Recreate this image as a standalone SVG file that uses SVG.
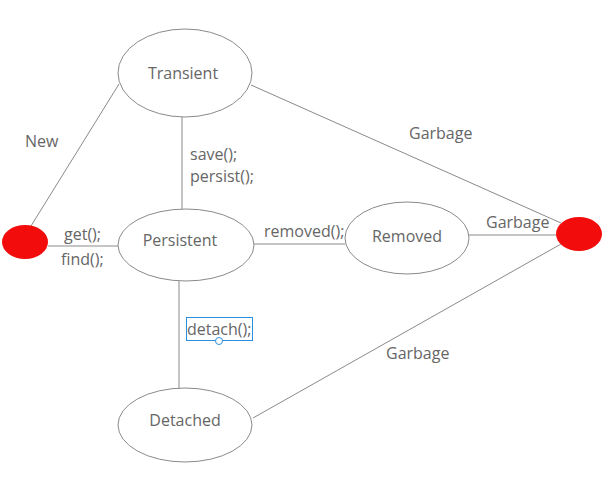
<svg xmlns="http://www.w3.org/2000/svg" width="608" height="490" viewBox="0 0 608 490">
<style>
.n{fill:#fff;stroke:#8a8a8a;stroke-width:1}
.r{fill:#f20c0c;stroke:none}
.c line{stroke:#8a8a8a;stroke-width:1}
text{font-family:"Open Sans","Noto Sans",sans-serif;font-size:16px;fill:#666}
.m{text-anchor:middle}
</style>
<rect width="608" height="490" fill="#fff"/>
<g class="c" id="connectors">
<line x1="31" y1="226" x2="119" y2="84"/>
<line x1="48" y1="246" x2="118" y2="246"/>
<line x1="182" y1="117" x2="182" y2="210"/>
<line x1="254" y1="244" x2="345" y2="244"/>
<line x1="469" y1="235" x2="556" y2="235"/>
<line x1="251" y1="85" x2="561" y2="223"/>
<line x1="179" y1="281" x2="179" y2="389"/>
<line x1="253" y1="418" x2="561" y2="244"/>
</g>
<g id="start"><ellipse class="r" cx="25" cy="242" rx="23" ry="17"/></g>
<g id="end"><ellipse class="r" cx="579" cy="234" rx="23" ry="17"/></g>
<g id="transient"><ellipse class="n" cx="185" cy="73" rx="67" ry="44"/><text class="m" x="183" y="79">Transient</text></g>
<g id="persistent"><ellipse class="n" cx="186" cy="245" rx="68" ry="36"/><text class="m" x="180" y="246">Persistent</text></g>
<g id="removed"><ellipse class="n" cx="407" cy="238" rx="62" ry="36"/><text class="m" x="407" y="242">Removed</text></g>
<g id="detached"><ellipse class="n" cx="185" cy="425" rx="67" ry="37"/><text class="m" x="185" y="426">Detached</text></g>
<g id="labels">
<text x="25" y="147">New</text>
<text x="190" y="160">save();</text>
<text x="190" y="182">persist();</text>
<text x="64" y="240">get();</text>
<text x="61" y="265">find();</text>
<text x="264" y="237">removed();</text>
<text x="409" y="139">Garbage</text>
<text x="486" y="228">Garbage</text>
<text x="386" y="359">Garbage</text>
<text x="187" y="335">detach();</text>
<rect x="186.5" y="317.5" width="66" height="23" fill="none" stroke="#2b8fe0" stroke-width="1"/>
<circle cx="219" cy="341" r="3.5" fill="#fff" stroke="#2b8fe0" stroke-width="1"/>
</g>
</svg>
